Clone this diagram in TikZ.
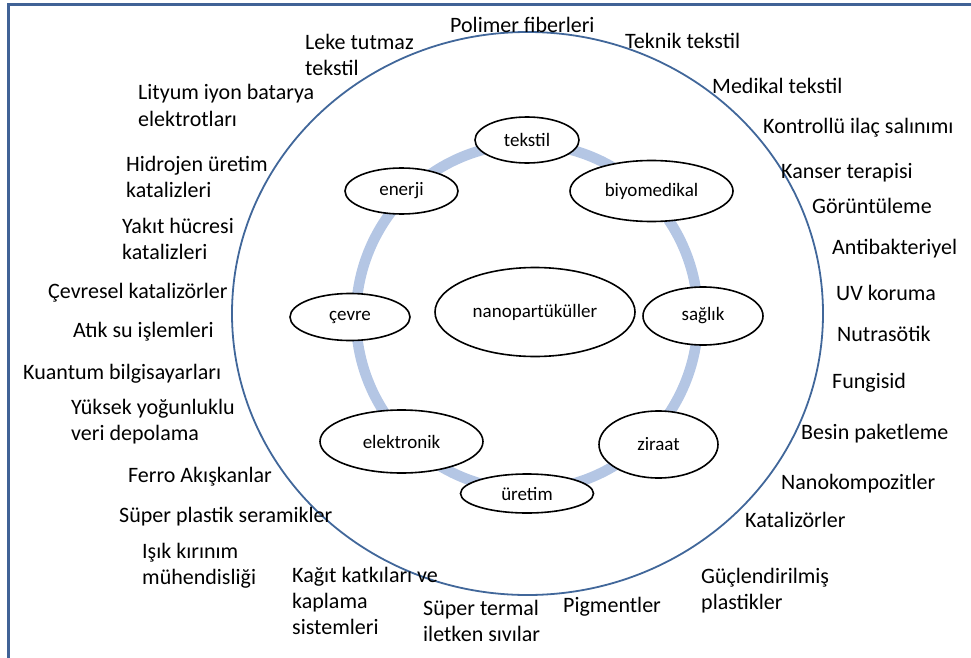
\documentclass[tikz,border=0pt]{standalone}
\usepackage{fontspec}
\setmainfont{Carlito}
\usetikzlibrary{shapes.geometric}
\definecolor{framecol}{RGB}{64,98,150}
\definecolor{outercol}{RGB}{65,103,154}
\definecolor{ringcol}{RGB}{180,198,228}
\tikzset{
  field/.style={ellipse, draw=black, line width=1.6pt, fill=white, inner sep=0pt,
    font=\fontsize{19}{22}\selectfont},
  % multi-line labels are placed by the baseline of their last line
  app/.style={anchor=base west, inner sep=0pt, align=left,
    font=\fontsize{22}{26}\selectfont},
}
\begin{document}
\begin{tikzpicture}[x=1pt,y=-1pt]
\useasboundingbox (0,0) rectangle (971,658);
% page frame
\draw[framecol, line width=3pt] (8,658) -- (8,5) -- (971,5);
% outer boundary
\draw[outercol, line width=1.8pt] (527.5,313.5) ellipse [x radius=295.5, y radius=281.5];
% ring linking the fields
\draw[ringcol, line width=10.5pt] (527,317) ellipse [x radius=171, y radius=173];

% fields of application
\node[field, minimum width=104pt, minimum height=46pt] (tekstil) at (527,140) {tekstil};
\node[field, minimum width=163pt, minimum height=61pt] (biyo) at (651.5,191) {biyomedikal};
\node[field, minimum width=113pt, minimum height=46pt] (enerji) at (401.5,191) {enerji};
\node[field, minimum width=120pt, minimum height=47pt] (cevre) at (350,317) {çevre};
\node[field, minimum width=200pt, minimum height=89pt] (nano) at (535,312) {nanopartüküller};
\node[field, minimum width=120pt, minimum height=58pt] (saglik) at (703,316) {sağlık};
\node[field, minimum width=119pt, minimum height=67pt] (ziraat) at (658.5,444.5) {ziraat};
\node[field, minimum width=133pt, minimum height=39pt] (uretim) at (527,493.5) {üretim};
\node[field, minimum width=163pt, minimum height=63pt] (elek) at (401.5,441.5) {elektronik};

% applications around the boundary
\node[app] (l1) at (450,33) {Polimer fiberleri};
\node[app] (l2) at (305,76) {Leke tutmaz\\tekstil};
\node[app] (l3) at (625,49) {Teknik tekstil};
\node[app] (l4) at (712,94) {Medikal tekstil};
\node[app] (l5) at (763,133) {Kontrollü ilaç salınımı};
\node[app] (l6) at (781,178) {Kanser terapisi};
\node[app] (l7) at (812,213) {Görüntüleme};
\node[app] (l8) at (832,254) {Antibakteriyel};
\node[app] (l9) at (836,300) {UV koruma};
\node[app] (l10) at (837,341) {Nutrasötik};
\node[app] (l11) at (832,388) {Fungisid};
\node[app] (l12) at (801,439) {Besin paketleme};
\node[app] (l13) at (781,489) {Nanokompozitler};
\node[app] (l14) at (745,527) {Katalizörler};
\node[app] (l15) at (701,609) {Güçlendirilmiş\\plastikler};
\node[app] (l16) at (563,612) {Pigmentler};
\node[app] (l17) at (423,641) {Süper termal\\iletken sıvılar};
\node[app] (l18) at (292,634) {Kağıt katkıları ve\\kaplama\\sistemleri};
\node[app] (l19) at (142,584) {Işık kırınım\\mühendisliği};
\node[app] (l20) at (119,522) {Süper plastik seramikler};
\node[app] (l21) at (128,482) {Ferro Akışkanlar};
\node[app] (l22) at (71,440) {Yüksek yoğunluklu\\veri depolama};
\node[app] (l23) at (23,379) {Kuantum bilgisayarları};
\node[app] (l24) at (73,337) {Atık su işlemleri};
\node[app] (l25) at (48,298) {Çevresel katalizörler};
\node[app] (l26) at (122,259) {Yakıt hücresi\\katalizleri};
\node[app] (l27) at (126,197) {Hidrojen üretim\\katalizleri};
\node[app] (l28) at (138,126) {Lityum iyon batarya\\elektrotları};
\end{tikzpicture}
\end{document}
